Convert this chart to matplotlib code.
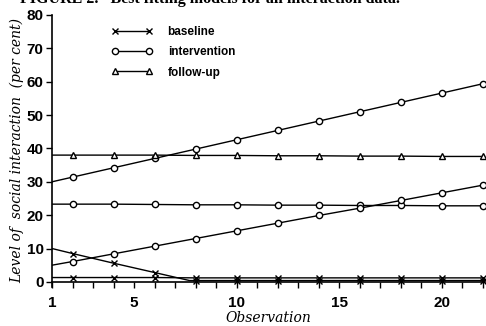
import matplotlib.pyplot as plt
import numpy as np
from matplotlib.lines import Line2D

# observation positions where the markers sit
obs = [2, 4, 6, 8, 10, 12, 14, 16, 18, 20, 22]

# baseline models
baseline_flat = [1.3, 1.3, 1.3, 1.2, 1.2, 1.2, 1.2, 1.2, 1.2, 1.2, 1.2]
baseline_trend_x = [1, 2, 4, 6, 7.7, 8, 10, 12, 14, 16, 18, 20, 22]
baseline_trend = [10.0, 8.5, 5.6, 2.8, 0.4, 0.4, 0.4, 0.4, 0.4, 0.4, 0.4, 0.4, 0.4]

# intervention models
interv_high = [31.4, 34.2, 37.0, 39.8, 42.6, 45.4, 48.2, 51.0, 53.8, 56.6, 59.4]
interv_flat = [23.3, 23.3, 23.2, 23.1, 23.1, 23.0, 23.0, 22.9, 22.9, 22.8, 22.8]
interv_low = [6.1, 8.4, 10.7, 13.0, 15.3, 17.6, 19.9, 22.1, 24.4, 26.7, 29.0]

# follow-up model
follow_flat = [38.0, 38.0, 38.0, 37.9, 37.9, 37.8, 37.8, 37.7, 37.7, 37.6, 37.6]

serif = "DejaVu Serif"
sans = "Liberation Sans"

fig = plt.figure(figsize=(4.86, 3.26), dpi=100)
ax = fig.add_axes([0.107, 0.12, 0.891, 0.834])

lw = 1.0
ms = 4.5
mkw = dict(color="black", lw=lw, markersize=ms, markerfacecolor="white",
           markeredgecolor="black", markeredgewidth=1.0)

# lines start at the y axis (x = 1), markers only at even observations
every = list(range(1, 12))
ax.plot([1] + obs, [baseline_flat[0]] + baseline_flat, marker="x", markevery=every, **mkw)
ax.plot(baseline_trend_x, baseline_trend, marker="x", markevery=[1, 2, 3, 5, 6, 7, 8, 9, 10, 11, 12], **mkw)
ax.plot([1] + obs, [30.0] + interv_high, marker="o", markevery=every, **mkw)
ax.plot([1] + obs, [interv_flat[0]] + interv_flat, marker="o", markevery=every, **mkw)
ax.plot([1] + obs, [5.0] + interv_low, marker="o", markevery=every, **mkw)
ax.plot([1] + obs, [follow_flat[0]] + follow_flat, marker="^", markevery=every, **mkw)

ax.set_xlim(1, 22.1)
ax.set_ylim(-1.5, 80)
ax.spines["top"].set_visible(False)
ax.spines["right"].set_visible(False)
ax.spines["bottom"].set_position(("data", 0))
ax.spines["left"].set_linewidth(1.2)
ax.spines["bottom"].set_linewidth(1.2)

ax.set_xticks([1, 5, 10, 15, 20])
ax.set_xticks(np.arange(1, 23), minor=True)
ax.set_yticks(np.arange(0, 81, 10))
ax.tick_params(axis="x", which="both", direction="out", length=4, width=1, pad=6)
ax.tick_params(axis="y", direction="out", length=4, width=1, pad=2)
for lab in ax.get_xticklabels() + ax.get_yticklabels():
    lab.set_fontfamily(sans)
    lab.set_fontweight("bold")
    lab.set_fontsize(11)

ax.set_xlabel("Observation", fontfamily=serif, fontstyle="italic", fontsize=10, labelpad=1)
ax.set_ylabel("Level of  social interaction  (per cent)", fontfamily=serif,
              fontstyle="italic", fontsize=10, labelpad=2)

handles = [
    Line2D([], [], marker="x", **mkw),
    Line2D([], [], marker="o", **mkw),
    Line2D([], [], marker="^", **mkw),
]
ax.legend(handles, ["baseline", "intervention", "follow-up"], loc="upper left",
          bbox_to_anchor=(111 / 486, 1 - 26 / 326), bbox_transform=fig.transFigure,
          frameon=False, numpoints=2, handlelength=3.5, handletextpad=1.3,
          labelspacing=0.7, borderpad=0, borderaxespad=0,
          prop=dict(family=sans, size=8.5, weight="bold"))

# caption sits at the top edge, partly cut off as in the scanned page
fig.text(20 / 486, 1 - 3 / 326, "FIGURE 2.   Best fitting models for all interaction data.",
         fontfamily="Liberation Serif", fontweight="bold", fontsize=11.5,
         va="baseline", ha="left")

fig.savefig("out.png", dpi=100)
